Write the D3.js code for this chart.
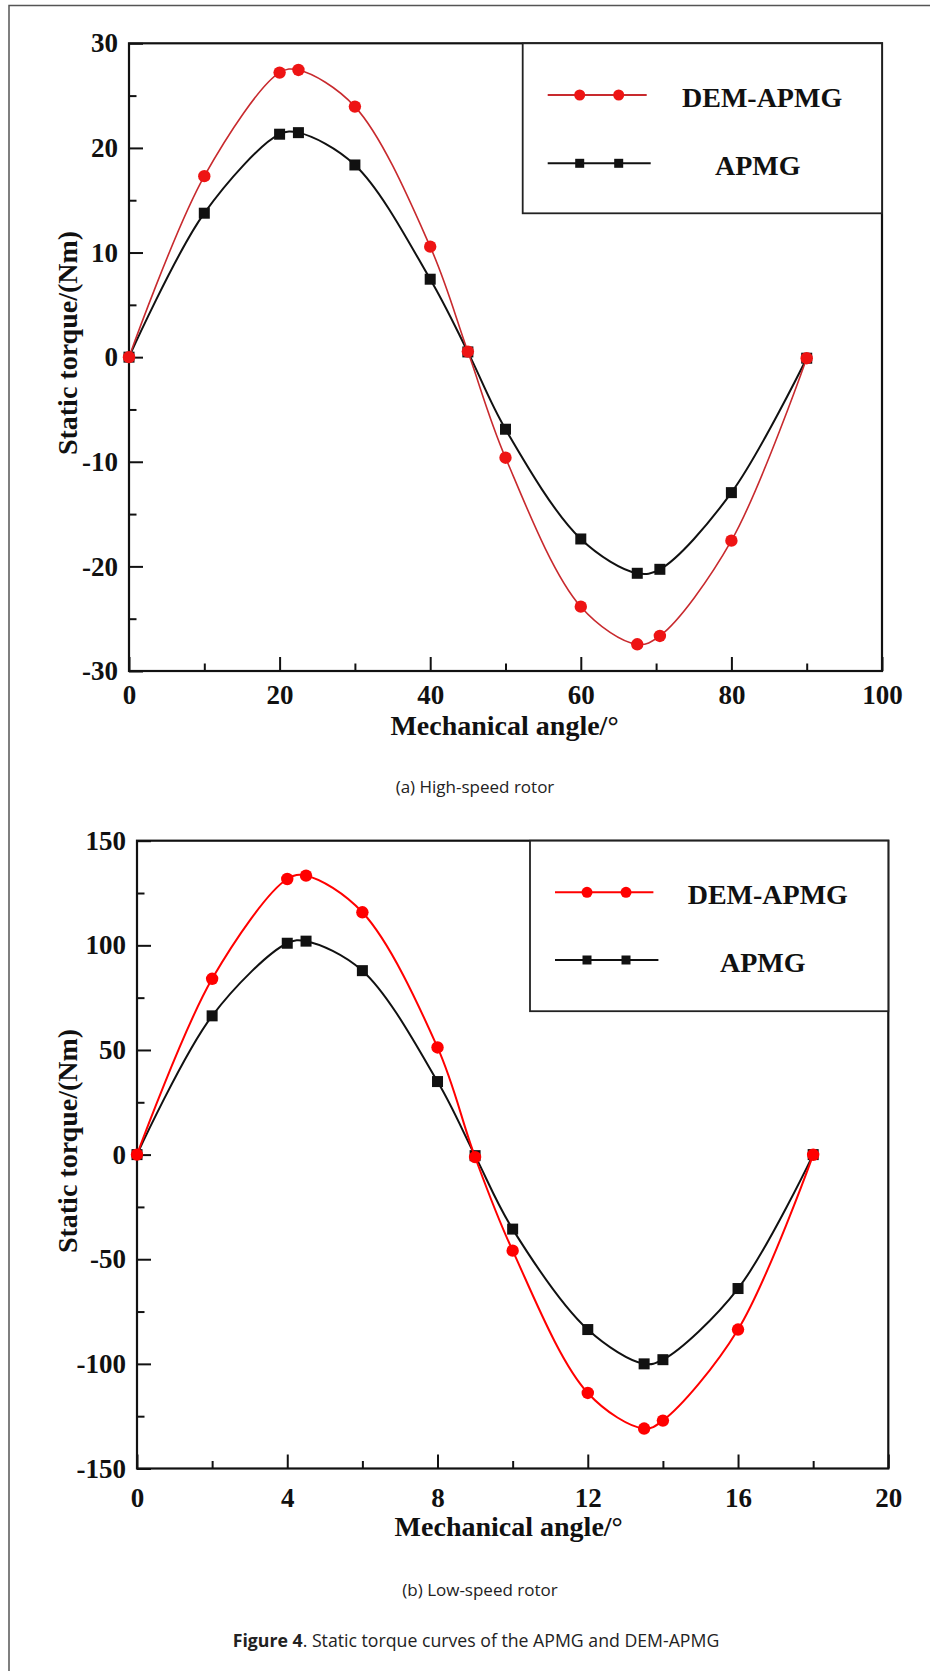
<!DOCTYPE html>
<html>
<head>
<meta charset="utf-8">
<script src="https://cdn.jsdelivr.net/npm/d3@7"></script>
<style>
  body { margin: 0; background: #fff; }
  .tick text { font-family: "Liberation Serif", "Times New Roman", serif; font-weight: bold; font-size: 27px; fill: #111; }
  .axis-title { font-family: "Liberation Serif", "Times New Roman", serif; font-weight: bold; font-size: 28px; fill: #111; }
  .legend-text { font-family: "Liberation Serif", "Times New Roman", serif; font-weight: bold; font-size: 28px; fill: #111; }
  .caption { font-family: "Open Sans", "Noto Sans", sans-serif; font-size: 17px; fill: #222; }
</style>
</head>
<body>
<div id="figure"></div>
<script>
// data
var seriesNames = ["DEM-APMG", "APMG"];

// (a) high-speed rotor
var anglesHigh = [0, 10, 20, 22.5, 30, 40, 45, 50, 60, 67.5, 70.5, 80, 90];
var demHigh  = [0, 17.3, 27.2, 27.45, 23.95, 10.56, 0.53, -9.61, -23.85, -27.45, -26.65, -17.54, -0.1];
var apmgHigh = [0, 13.76, 21.31, 21.46, 18.37, 7.45, 0.5, -6.89, -17.38, -20.66, -20.28, -12.95, -0.1];
var xTicksHigh = [0, 20, 40, 60, 80, 100];
var xMinorHigh = [10, 30, 50, 70, 90];
var yTicksHigh = [-30, -20, -10, 0, 10, 20, 30];
var yMinorHigh = [-25, -15, -5, 5, 15, 25];

// (b) low-speed rotor
var anglesLow = [0, 2, 4, 4.5, 6, 8, 9, 10, 12, 13.5, 14, 16, 18];
var demLow  = [0, 84.0, 131.7, 133.3, 115.8, 51.2, -1.2, -45.9, -113.9, -130.9, -127.1, -83.6, -0.1];
var apmgLow = [0, 66.3, 101, 102, 87.9, 34.9, -0.5, -35.6, -83.6, -100, -98, -64, 0];
var xTicksLow = [0, 4, 8, 12, 16, 20];
var xMinorLow = [2, 6, 10, 14, 18];
var yTicksLow = [-150, -100, -50, 0, 50, 100, 150];
var yMinorLow = [-125, -75, -25, 25, 75, 125];

var svg = d3.select("#figure").append("svg")
    .attr("width", 930)
    .attr("height", 1671);

// page frame (only top and left edges show)
svg.append("path")
    .attr("d", "M9,1671V5.5H930")
    .attr("fill", "none")
    .attr("stroke", "#555")
    .attr("stroke-width", 1.5);

// plain hyphen for negatives, like the original
var plain = function(d) { return String(d); };

function drawPanel(cfg) {
    var x = d3.scaleLinear().domain([cfg.xTicks[0], cfg.xTicks[cfg.xTicks.length - 1]]).range([cfg.left, cfg.right]);
    var y = d3.scaleLinear().domain([cfg.yTicks[0], cfg.yTicks[cfg.yTicks.length - 1]]).range([cfg.bottom, cfg.top]);
    var g = svg.append("g");

    // minor ticks
    g.append("g")
        .attr("transform", "translate(0," + cfg.bottom + ")")
        .call(d3.axisBottom(x).tickValues(cfg.xMinor).tickSize(-7.5).tickSizeOuter(0).tickFormat(""))
        .call(function(s) { s.select(".domain").remove(); });
    g.append("g")
        .attr("transform", "translate(" + cfg.left + ",0)")
        .call(d3.axisLeft(y).tickValues(cfg.yMinor).tickSize(-7.5).tickSizeOuter(0).tickFormat(""))
        .call(function(s) { s.select(".domain").remove(); });

    // major ticks + labels
    g.append("g")
        .attr("transform", "translate(0," + cfg.bottom + ")")
        .call(d3.axisBottom(x).tickValues(cfg.xTicks).tickSize(-14).tickSizeOuter(0).tickPadding(cfg.xPad).tickFormat(plain))
        .call(function(s) { s.select(".domain").remove(); });
    g.append("g")
        .attr("transform", "translate(" + cfg.left + ",0)")
        .call(d3.axisLeft(y).tickValues(cfg.yTicks).tickSize(-14).tickSizeOuter(0).tickPadding(11).tickFormat(plain))
        .call(function(s) { s.select(".domain").remove(); });

    g.selectAll(".tick line").attr("stroke", "#111").attr("stroke-width", 2);

    // plot frame
    g.append("rect")
        .attr("x", cfg.left)
        .attr("y", cfg.top)
        .attr("width", cfg.right - cfg.left)
        .attr("height", cfg.bottom - cfg.top)
        .attr("fill", "none")
        .attr("stroke", "#111")
        .attr("stroke-width", 2.2);

    var line = d3.line()
        .x(function(d) { return x(d.a); })
        .y(function(d) { return y(d.v); })
        .curve(d3.curveCatmullRom.alpha(0.5));

    var series = [
        {name: seriesNames[0], values: cfg.dem, line: cfg.redLine, mark: cfg.redMark, shape: "circle", width: cfg.redWidth},
        {name: seriesNames[1], values: cfg.apmg, line: "#111", mark: "#111", shape: "square", width: 2}
    ];

    // black first so the red markers sit on top
    series.slice().reverse().forEach(function(s) {
        var pts = cfg.angles.map(function(a, i) { return {a: a, v: s.values[i]}; });
        g.append("path")
            .datum(pts)
            .attr("fill", "none")
            .attr("stroke", s.line)
            .attr("stroke-width", s.width)
            .attr("d", line);
        if (s.shape === "circle") {
            g.selectAll(null).data(pts).enter().append("circle")
                .attr("cx", function(d) { return x(d.a); })
                .attr("cy", function(d) { return y(d.v); })
                .attr("r", 6.2)
                .attr("fill", s.mark);
        } else {
            g.selectAll(null).data(pts).enter().append("rect")
                .attr("x", function(d) { return x(d.a) - 5.5; })
                .attr("y", function(d) { return y(d.v) - 5.5; })
                .attr("width", 11)
                .attr("height", 11)
                .attr("fill", s.mark);
        }
    });

    // legend box
    var lg = g.append("g").attr("transform", "translate(" + cfg.legend.x + "," + cfg.top + ")");
    lg.append("rect")
        .attr("width", cfg.right - cfg.legend.x)
        .attr("height", cfg.legend.h)
        .attr("fill", "#fff")
        .attr("stroke", "#222")
        .attr("stroke-width", 1.8);

    series.forEach(function(s, i) {
        var row = lg.append("g").attr("transform", "translate(0," + cfg.legend.rows[i] + ")");
        row.append("line")
            .attr("x1", 25).attr("x2", 25 + cfg.legend.len[i])
            .attr("stroke", s.line)
            .attr("stroke-width", 2);
        [57, 96].forEach(function(mx) {
            if (s.shape === "circle") {
                row.append("circle").attr("cx", mx).attr("r", 5.5).attr("fill", s.mark);
            } else {
                row.append("rect").attr("x", mx - 4.5).attr("y", -4.5).attr("width", 9).attr("height", 9).attr("fill", s.mark);
            }
        });
        row.append("text")
            .attr("class", "legend-text")
            .attr("x", cfg.legend.textX[i])
            .attr("y", 12)
            .text(s.name);
    });

    // axis titles
    svg.append("text")
        .attr("class", "axis-title")
        .attr("text-anchor", "middle")
        .attr("x", cfg.xTitle[0])
        .attr("y", cfg.xTitle[1])
        .text("Mechanical angle/\u00b0");

    svg.append("text")
        .attr("class", "axis-title")
        .attr("text-anchor", "middle")
        .attr("transform", "translate(" + cfg.yTitle[0] + "," + cfg.yTitle[1] + ") rotate(-90)")
        .text("Static torque/(Nm)");

    svg.append("text")
        .attr("class", "caption")
        .attr("text-anchor", "middle")
        .attr("x", cfg.caption[0])
        .attr("y", cfg.caption[1])
        .text(cfg.captionText);
}

drawPanel({
    angles: anglesHigh, dem: demHigh, apmg: apmgHigh,
    xTicks: xTicksHigh, xMinor: xMinorHigh, yTicks: yTicksHigh, yMinor: yMinorHigh,
    left: 129, right: 882, top: 43.3, bottom: 671, xPad: 14,
    redLine: "#c82a2e", redMark: "#ee1414", redWidth: 1.6,
    legend: {x: 522.7, h: 170, rows: [51.7, 120], len: [99, 103], textX: [159.3, 192.3]},
    xTitle: [504.5, 735], yTitle: [77, 343],
    caption: [475, 793], captionText: "(a) High-speed rotor"
});

drawPanel({
    angles: anglesLow, dem: demLow, apmg: apmgLow,
    xTicks: xTicksLow, xMinor: xMinorLow, yTicks: yTicksLow, yMinor: yMinorLow,
    left: 137, right: 888.3, top: 840.7, bottom: 1468.5, xPad: 19,
    redLine: "#ff0000", redMark: "#ff0000", redWidth: 2,
    legend: {x: 530, h: 170.5, rows: [51.6, 119.3], len: [98.4, 103.4], textX: [157.7, 190]},
    xTitle: [508.7, 1536], yTitle: [77, 1141],
    caption: [480, 1596], captionText: "(b) Low-speed rotor"
});

// figure caption
var cap = svg.append("text")
    .attr("class", "caption")
    .attr("text-anchor", "middle")
    .attr("x", 476)
    .attr("y", 1647)
    .style("font-size", "17.7px");
cap.append("tspan").attr("font-weight", "bold").text("Figure 4");
cap.append("tspan").text(". Static torque curves of the APMG and DEM-APMG");
</script>
</body>
</html>
